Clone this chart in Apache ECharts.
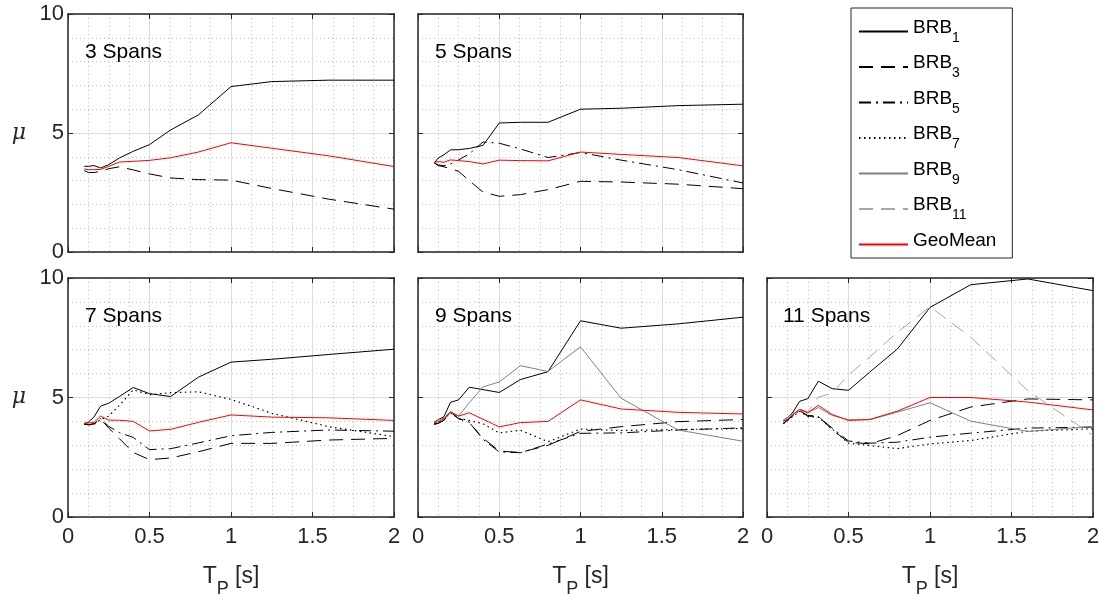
<!DOCTYPE html>
<html><head><meta charset="utf-8">
<script src="https://cdn.jsdelivr.net/npm/echarts@6/dist/echarts.min.js"></script>
<style>html,body{margin:0;padding:0;background:#fff}#c{width:1103px;height:595px}</style>
</head><body><div id="c"></div>
<script>
// ---------- data ----------
const periods = [0.1, 0.125, 0.16, 0.2, 0.25, 0.315, 0.4, 0.5, 0.63, 0.8, 1.0, 1.25, 1.6, 2.0];
const xTickLabels = ['0', '0.5', '1', '1.5', '2'];
const yTickLabels = ['0', '5', '10'];
const seriesNames = ['BRB1', 'BRB3', 'BRB5', 'BRB7', 'BRB9', 'BRB11', 'GeoMean'];
const panelTitles = ['3 Spans', '5 Spans', '7 Spans', '9 Spans', '11 Spans'];

// 3 spans
const s3_BRB1 = [3.60, 3.60, 3.63, 3.53, 3.67, 3.95, 4.23, 4.51, 5.13, 5.76, 6.95, 7.16, 7.22, 7.22];
const s3_BRB3 = [3.42, 3.34, 3.34, 3.39, 3.50, 3.58, 3.45, 3.28, 3.11, 3.04, 3.02, 2.67, 2.22, 1.80];
const s3_Geo  = [3.49, 3.46, 3.46, 3.47, 3.60, 3.78, 3.81, 3.85, 3.96, 4.20, 4.59, 4.36, 4.04, 3.59];
// 5 spans
const s5_BRB1 = [3.74, 3.95, 4.09, 4.29, 4.30, 4.35, 4.48, 5.42, 5.45, 5.45, 6.00, 6.04, 6.15, 6.21];
const s5_BRB3 = [3.75, 3.63, 3.58, 3.50, 3.39, 3.00, 2.52, 2.34, 2.41, 2.62, 2.97, 2.94, 2.85, 2.66];
const s5_BRB5 = [3.74, 3.66, 3.62, 3.70, 3.87, 4.12, 4.62, 4.57, 4.33, 3.97, 4.18, 3.86, 3.46, 2.90];
const s5_Geo  = [3.77, 3.80, 3.77, 3.87, 3.84, 3.80, 3.70, 3.86, 3.84, 3.83, 4.20, 4.10, 3.97, 3.62];
// 7 spans
const s7_BRB1 = [3.90, 3.97, 4.19, 4.64, 4.76, 5.04, 5.42, 5.16, 5.04, 5.85, 6.48, 6.60, 6.80, 7.02];
const s7_BRB3 = [3.88, 3.86, 3.90, 4.10, 3.72, 3.28, 2.70, 2.40, 2.47, 2.73, 3.08, 3.08, 3.22, 3.29];
const s7_BRB5 = [3.88, 3.86, 3.90, 4.12, 3.79, 3.53, 3.33, 2.82, 2.86, 3.10, 3.40, 3.54, 3.64, 3.59];
const s7_BRB7 = [3.88, 3.86, 3.88, 4.07, 4.22, 4.67, 5.32, 5.12, 5.20, 5.24, 4.92, 4.34, 3.78, 3.36];
const s7_Geo  = [3.93, 3.93, 3.96, 4.22, 4.05, 4.05, 4.00, 3.60, 3.67, 3.96, 4.27, 4.18, 4.15, 4.04];
// 9 spans
const s9_BRB1 = [3.97, 4.07, 4.20, 4.80, 4.90, 5.43, 5.33, 5.21, 5.75, 6.08, 8.21, 7.90, 8.08, 8.36];
const s9_BRB3 = [3.88, 3.92, 4.05, 4.38, 4.12, 3.95, 3.30, 2.76, 2.70, 3.00, 3.58, 3.78, 3.99, 4.08];
const s9_BRB5 = [3.88, 3.92, 4.05, 4.38, 4.12, 3.97, 3.25, 2.72, 2.69, 3.05, 3.50, 3.52, 3.64, 3.73];
const s9_BRB7 = [3.90, 3.95, 4.10, 4.36, 4.12, 4.04, 3.90, 3.52, 3.63, 3.15, 3.68, 3.62, 3.66, 3.70];
const s9_BRB9 = [3.95, 4.05, 4.15, 4.38, 4.22, 4.78, 5.44, 5.65, 6.33, 6.09, 7.12, 4.97, 3.64, 3.17];
const s9_Geo  = [3.94, 3.99, 4.10, 4.41, 4.22, 4.36, 4.09, 3.77, 3.95, 4.00, 4.90, 4.52, 4.38, 4.31];
// 11 spans
const s11_BRB1  = [4.05, 4.16, 4.39, 4.84, 4.95, 5.68, 5.37, 5.30, 6.06, 7.03, 8.77, 9.72, 9.96, 9.47];
const s11_BRB3  = [3.90, 4.05, 4.25, 4.45, 4.25, 4.22, 3.65, 3.13, 3.06, 3.41, 4.04, 4.60, 4.94, 4.90];
const s11_BRB5  = [3.92, 4.05, 4.25, 4.45, 4.22, 4.20, 3.72, 3.18, 3.09, 3.13, 3.34, 3.51, 3.72, 3.76];
const s11_BRB7  = [3.90, 4.03, 4.22, 4.42, 4.20, 4.18, 3.68, 3.09, 2.99, 2.86, 3.06, 3.20, 3.59, 3.69];
const s11_BRB9  = [4.02, 4.10, 4.30, 4.50, 4.36, 4.58, 4.25, 4.07, 4.07, 4.39, 4.78, 4.01, 3.58, 3.79];
const s11_BRB11 = [4.03, 4.15, 4.35, 4.53, 4.40, 5.02, 5.18, 5.95, 6.69, 7.73, 8.80, 7.52, 5.29, 3.41];
const s11_Geo   = [4.00, 4.07, 4.29, 4.50, 4.36, 4.67, 4.29, 4.04, 4.08, 4.43, 5.00, 5.00, 4.81, 4.48];

const panelData = [
  {BRB1: s3_BRB1, BRB3: s3_BRB3, GeoMean: s3_Geo},
  {BRB1: s5_BRB1, BRB3: s5_BRB3, BRB5: s5_BRB5, GeoMean: s5_Geo},
  {BRB1: s7_BRB1, BRB3: s7_BRB3, BRB5: s7_BRB5, BRB7: s7_BRB7, GeoMean: s7_Geo},
  {BRB1: s9_BRB1, BRB3: s9_BRB3, BRB5: s9_BRB5, BRB7: s9_BRB7, BRB9: s9_BRB9, GeoMean: s9_Geo},
  {BRB1: s11_BRB1, BRB3: s11_BRB3, BRB5: s11_BRB5, BRB7: s11_BRB7, BRB9: s11_BRB9, BRB11: s11_BRB11, GeoMean: s11_Geo}
];

// ---------- styles / layout ----------
const FONT = '"Liberation Sans", Arial, Helvetica, sans-serif';
const AX = '#262626';
const lineStyles = {
  BRB1:    {color: '#000000', type: 'solid', width: 1},
  BRB3:    {color: '#000000', type: [14, 8], width: 1},
  BRB5:    {color: '#000000', type: [12, 5, 2, 5], width: 1},
  BRB7:    {color: '#000000', type: [1.5, 3.5], width: 1.2},
  BRB9:    {color: '#808080', type: 'solid', width: 1},
  BRB11:   {color: '#a6a6a6', type: [14, 8], width: 1},
  GeoMean: {color: '#ff0000', type: 'solid', width: 1}
};
const boxes = [
  {left: 68,  top: 14,  width: 326, height: 238, xLab: false, yLab: true},
  {left: 418, top: 14,  width: 325, height: 238, xLab: false, yLab: false},
  {left: 68,  top: 278, width: 326, height: 239, xLab: true,  yLab: true},
  {left: 418, top: 278, width: 325, height: 239, xLab: true,  yLab: false},
  {left: 767, top: 278, width: 326, height: 239, xLab: true,  yLab: false}
];

const grid = [], xAxis = [], yAxis = [], series = [], graphic = [];
boxes.forEach((b, i) => {
  grid.push({left: b.left, top: b.top, width: b.width, height: b.height,
    containLabel: false, outerBoundsMode: 'none'});
  const common = {
    gridIndex: i, type: 'value', min: 0,
    axisLine: {show: true, onZero: false, lineStyle: {color: AX, width: 1.5}},
    axisTick: {show: true, inside: true, length: 5, lineStyle: {color: AX, width: 1}}
  };
  xAxis.push(Object.assign({}, common, {
    position: 'bottom', max: 2, interval: 0.5,
    axisLabel: {show: b.xLab, fontSize: 22, color: AX, fontFamily: FONT, margin: 9,
      formatter: v => xTickLabels[Math.round(v / 0.5)]},
    splitLine: {show: true, lineStyle: {color: '#dcdcdc', width: 1}},
    minorTick: {show: false, splitNumber: 4},
    minorSplitLine: {show: true, lineStyle: {color: '#c0c0c0', width: 1, type: [1, 3]}},
    name: b.xLab ? '{t|T}{p|P}{t| [s]}' : '', nameLocation: 'middle', nameGap: 48,
    nameTextStyle: {color: AX, fontFamily: FONT, rich: {
      t: {fontSize: 23, lineHeight: 23, verticalAlign: 'top', fontFamily: FONT, color: AX},
      p: {fontSize: 18, lineHeight: 33, verticalAlign: 'bottom', fontFamily: FONT, color: AX}
    }}
  }));
  xAxis.push(Object.assign({}, common, {
    position: 'top', max: 2, interval: 0.5,
    axisLabel: {show: false}, splitLine: {show: false}
  }));
  yAxis.push(Object.assign({}, common, {
    position: 'left', max: 10, interval: 5,
    axisLabel: {show: b.yLab, fontSize: 22, color: AX, fontFamily: FONT, margin: 4,
      formatter: v => yTickLabels[Math.round(v / 5)]},
    splitLine: {show: true, lineStyle: {color: '#dcdcdc', width: 1}},
    minorTick: {show: false, splitNumber: 5},
    minorSplitLine: {show: true, lineStyle: {color: '#c0c0c0', width: 1, type: [1, 3]}},
    name: b.yLab ? 'μ' : '', nameLocation: 'middle', nameRotate: 0, nameGap: 42,
    nameTextStyle: {color: AX, fontFamily: '"DejaVu Serif", "Liberation Serif", serif', fontStyle: 'italic', fontSize: 22}
  }));
  yAxis.push(Object.assign({}, common, {
    position: 'right', max: 10, interval: 5,
    axisLabel: {show: false}, splitLine: {show: false}
  }));
  seriesNames.forEach(name => {
    const vals = panelData[i][name];
    if (!vals) return;
    series.push({
      type: 'line', name: name, xAxisIndex: 2 * i, yAxisIndex: 2 * i,
      symbol: 'none', showSymbol: false, animation: false, silent: true,
      z: name === 'GeoMean' ? 5 : 3,
      lineStyle: lineStyles[name], itemStyle: {color: lineStyles[name].color},
      data: periods.map((p, k) => [p, vals[k]])
    });
  });
  graphic.push({type: 'text', left: b.left + (i === 4 ? 16 : 17), top: b.top + 28, z: 10,
    style: {text: panelTitles[i], font: '21px ' + FONT, fill: '#000'}});
});

const chart = echarts.init(document.getElementById('c'), null, {renderer: 'canvas'});
chart.setOption({
  backgroundColor: '#ffffff',
  animation: false,
  grid, xAxis, yAxis, series, graphic,
  legend: {
    orient: 'vertical', left: 851, top: 8,
    padding: [10, 12, 0, 7], itemGap: 8.5, itemWidth: 49, itemHeight: 14,
    backgroundColor: '#ffffff', borderColor: AX, borderWidth: 1,
    data: seriesNames, selectedMode: false,
    itemStyle: {opacity: 0},
    formatter: n => n === 'GeoMean' ? '{m|GeoMean}{s| }' : '{m|BRB}{s|' + n.slice(3) + '}',
    textStyle: {color: '#000', fontFamily: FONT, rich: {
      m: {fontSize: 19, lineHeight: 19, verticalAlign: 'top', fontFamily: FONT, color: '#000'},
      s: {fontSize: 14, lineHeight: 27, verticalAlign: 'bottom', fontFamily: FONT, color: '#000'}
    }}
  }
});
</script></body></html>
